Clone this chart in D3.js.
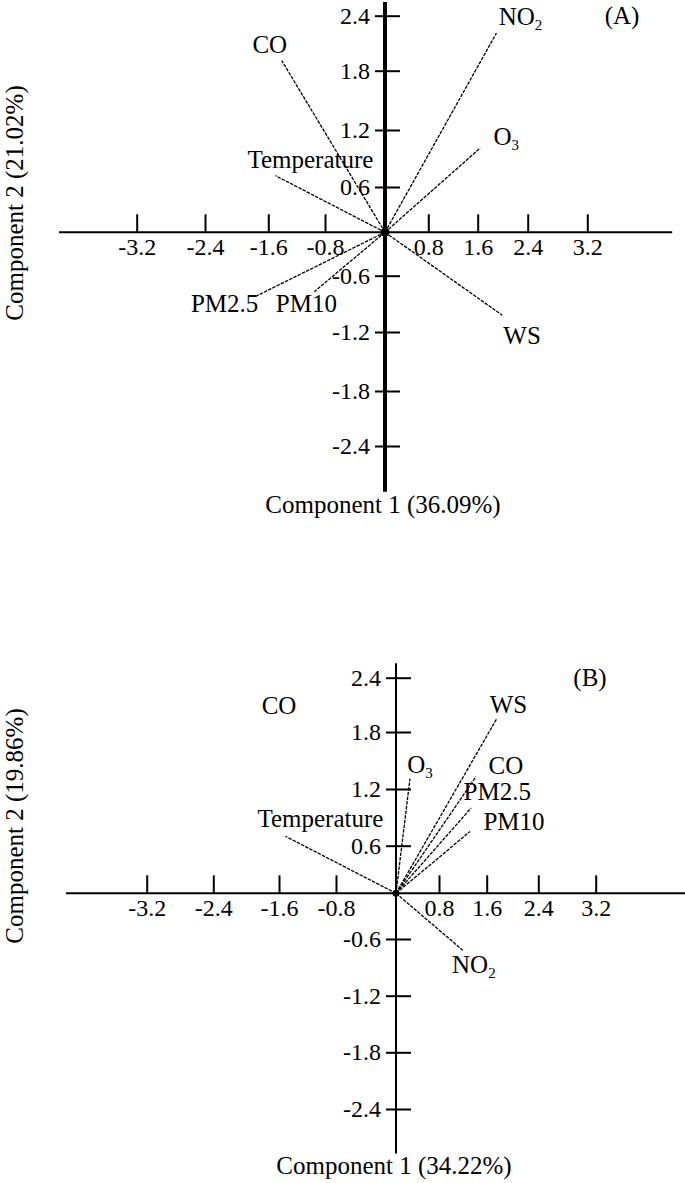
<!DOCTYPE html>
<html>
<head>
<meta charset="utf-8">
<script src="https://cdn.jsdelivr.net/npm/d3@7"></script>
<style>
  body { margin: 0; background: #fff; }
  svg { display: block; font-family: "Liberation Serif", "Times New Roman", serif; }
</style>
</head>
<body>
<svg id="biplot" width="685" height="1183"></svg>
<script>
// loadings: component 1 (x) and component 2 (y)
const variablesA = ['NO2', 'CO', 'O3', 'Temperature', 'PM2.5', 'PM10', 'WS'];
const pc1A = [1.90, -1.41, 1.64, -1.50, -1.76, -0.95, 1.99];
const pc2A = [2.21, 1.91, 1.01, 0.72, -0.82, -0.77, -1.02];

const variablesB = ['WS', 'CO', 'PM2.5', 'PM10', 'O3', 'Temperature', 'NO2'];
const pc1B = [1.75, 1.42, 1.34, 1.32, 0.26, -1.51, 1.20];
const pc2B = [1.94, 1.33, 1.00, 0.75, 1.31, 0.70, -0.72];

const xTicks = [-3.2, -2.4, -1.6, -0.8, 0.8, 1.6, 2.4, 3.2];
const yTicks = [-2.4, -1.8, -1.2, -0.6, 0.6, 1.2, 1.8, 2.4];
const panelTags = ['(A)', '(B)'];
const varianceC1 = ['36.09%', '34.22%'];
const varianceC2 = ['21.02%', '19.86%'];

const svg = d3.select('#biplot');
const TICK_FONT = 24;
const LABEL_FONT = 25;

// the original axes are hand drawn: tick spacing is uneven, so each scale
// maps every tick stop to where it sits in the artwork
const xStops = [-3.2, -2.4, -1.6, -0.8, 0, 0.8, 1.6, 2.4, 3.2];
const yStops = [-2.4, -1.8, -1.2, -0.6, 0, 0.6, 1.2, 1.8, 2.4];

const panels = [
  {
    names: variablesA, pc1: pc1A, pc2: pc2A, tag: panelTags[0],
    c1: varianceC1[0], c2: varianceC2[0],
    xRange: [136.7, 205, 268.3, 325, 385, 428.3, 477.7, 527.7, 587.3],
    yRange: [446, 391, 332, 275.7, 232.3, 187, 130, 70.7, 15.7],
    xExtent: [-4.11, 4.34], yExtent: [-2.9, 2.55], yAxisWidth: 4, dotR: 4.5,
    tagPos: [622, 24], xTitleY: 513, yTitleX: 23, yTitleY: 203,
    offsets: {
      'NO2': [24, -8], 'CO': [-12, -8], 'O3': [26, -3], 'Temperature': [35, -8],
      'PM2.5': [-31, 16], 'PM10': [-8, 20], 'WS': [20, 29]
    },
    extra: []
  },
  {
    names: variablesB, pc1: pc1B, pc2: pc2B, tag: panelTags[1],
    c1: varianceC1[1], c2: varianceC2[1],
    xRange: [146.7, 213.3, 279, 336, 396, 439, 486.7, 538.3, 595.7],
    yRange: [1109, 1052.3, 995.7, 939, 893.3, 845.7, 789, 732, 677.7],
    xExtent: [-4.17, 4.45], yExtent: [-2.87, 2.56], yAxisWidth: 2, dotR: 3.5,
    tagPos: [590, 686], xTitleY: 1174, yTitleX: 23, yTitleY: 826,
    offsets: {
      'WS': [12, -6], 'CO': [30, -3], 'PM2.5': [26, -8], 'PM10': [44, -2],
      'O3': [10, -6], 'Temperature': [35, -9], 'NO2': [11, 23]
    },
    // stray "CO" label printed in the upper-left of panel B
    extra: [{ text: 'CO', x: -1.6, y: 2.0 }]
  }
];

// writes NO2 / O3 with a subscript digit
function setLabel(text, name) {
  const m = name.match(/^(NO|O)(\d)$/);
  if (!m) {
    text.text(name);
    return;
  }
  text.append('tspan').text(m[1]);
  text.append('tspan').attr('font-size', 15).attr('dy', 5).text(m[2]);
}

panels.forEach(p => {
  const x = d3.scaleLinear().domain(xStops).range(p.xRange);
  const y = d3.scaleLinear().domain(yStops).range(p.yRange);
  const g = svg.append('g');

  // x axis ticks (pointing up, labels below)
  const gx = g.append('g')
    .attr('transform', `translate(0,${y(0)})`)
    .call(d3.axisBottom(x).tickValues(xTicks).tickSizeInner(-18).tickSizeOuter(0)
      .tickPadding(6).tickFormat(d => d.toFixed(1)));
  gx.select('.domain').remove();
  gx.attr('font-family', null).attr('font-size', TICK_FONT);
  gx.selectAll('.tick line').attr('stroke-width', 2);
  gx.selectAll('.tick text').attr('fill', '#000');

  // y axis ticks cross the axis
  const gy = g.append('g')
    .attr('transform', `translate(${x(0)},0)`)
    .call(d3.axisLeft(y).tickValues(yTicks).tickSizeInner(10).tickSizeOuter(0)
      .tickPadding(5).tickFormat(d => d.toFixed(1)));
  gy.select('.domain').remove();
  gy.attr('font-family', null).attr('font-size', TICK_FONT);
  gy.selectAll('.tick line').attr('x1', 15).attr('stroke-width', 2);
  gy.selectAll('.tick text').attr('fill', '#000');

  // axis lines
  g.append('line')
    .attr('x1', x(p.xExtent[0])).attr('x2', x(p.xExtent[1]))
    .attr('y1', y(0)).attr('y2', y(0))
    .attr('stroke', '#000').attr('stroke-width', 2);
  g.append('line')
    .attr('x1', x(0)).attr('x2', x(0))
    .attr('y1', y(p.yExtent[0])).attr('y2', y(p.yExtent[1]))
    .attr('stroke', '#000').attr('stroke-width', p.yAxisWidth);

  // loading vectors
  const rows = p.names.map((name, i) => ({ name, c1: p.pc1[i], c2: p.pc2[i] }));
  g.selectAll('.vector')
    .data(rows)
    .join('line')
    .attr('class', 'vector')
    .attr('x1', x(0)).attr('y1', y(0))
    .attr('x2', d => x(d.c1)).attr('y2', d => y(d.c2))
    .attr('stroke', '#000')
    .attr('stroke-width', 1.3)
    .attr('stroke-dasharray', '3.5,1.2');

  g.append('circle').attr('cx', x(0)).attr('cy', y(0)).attr('r', p.dotR).attr('fill', '#000');

  // variable labels
  g.selectAll('.var-label')
    .data(rows)
    .join('text')
    .attr('class', 'var-label')
    .attr('x', d => x(d.c1) + p.offsets[d.name][0])
    .attr('y', d => y(d.c2) + p.offsets[d.name][1])
    .attr('text-anchor', 'middle')
    .attr('font-size', LABEL_FONT)
    .each(function (d) { setLabel(d3.select(this), d.name); });

  p.extra.forEach(e => {
    g.append('text')
      .attr('x', x(e.x)).attr('y', y(e.y))
      .attr('text-anchor', 'middle')
      .attr('font-size', LABEL_FONT)
      .text(e.text);
  });

  // panel tag
  g.append('text')
    .attr('x', p.tagPos[0]).attr('y', p.tagPos[1])
    .attr('text-anchor', 'middle')
    .attr('font-size', LABEL_FONT)
    .text(p.tag);

  // axis titles
  g.append('text')
    .attr('x', x(0) - 2).attr('y', p.xTitleY)
    .attr('text-anchor', 'middle')
    .attr('font-size', LABEL_FONT)
    .text(`Component 1 (${p.c1})`);
  g.append('text')
    .attr('transform', `translate(${p.yTitleX},${p.yTitleY}) rotate(-90)`)
    .attr('text-anchor', 'middle')
    .attr('font-size', LABEL_FONT)
    .text(`Component 2 (${p.c2})`);
});
</script>
</body>
</html>
